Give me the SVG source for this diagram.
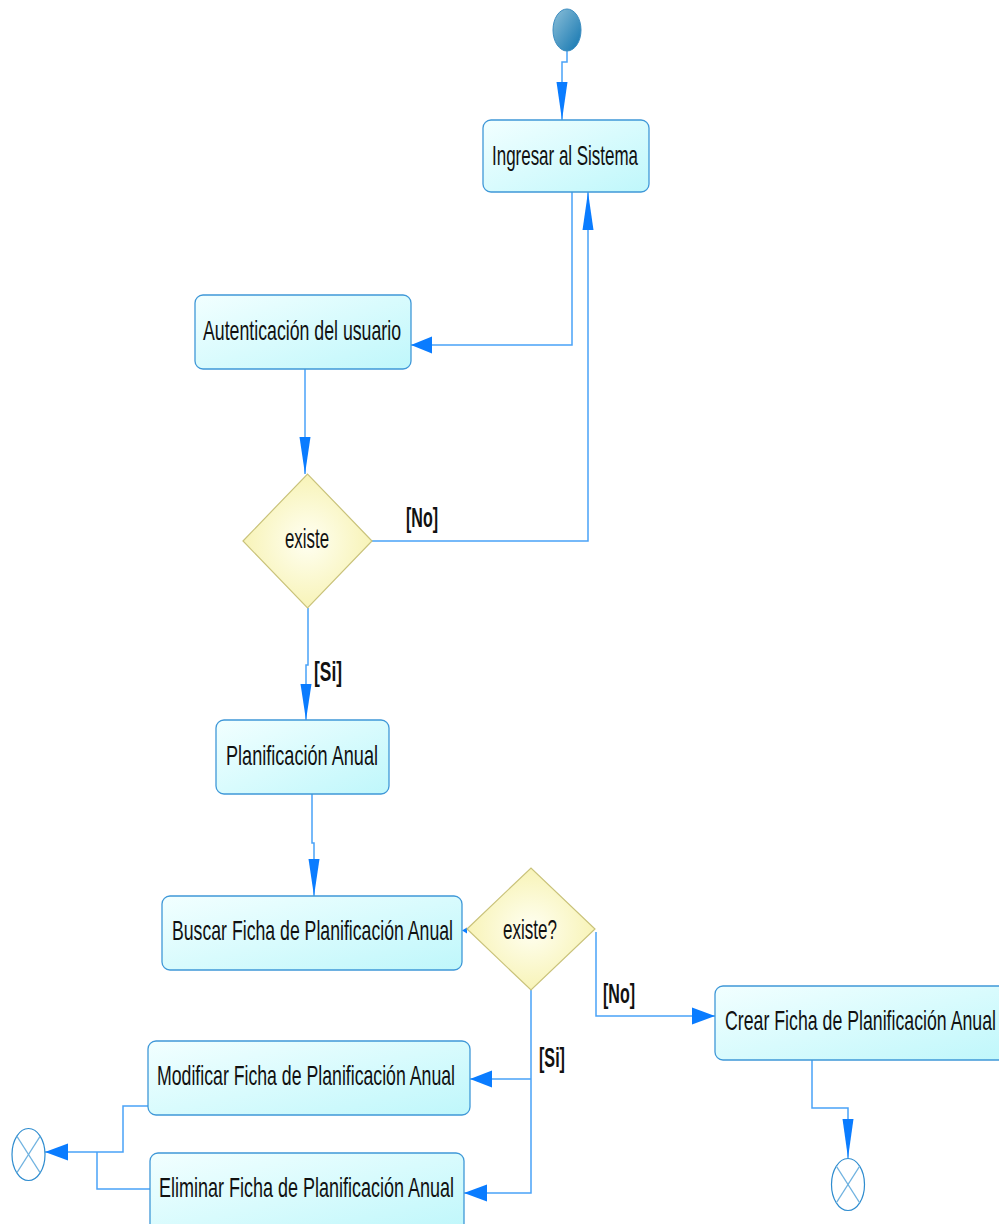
<svg xmlns="http://www.w3.org/2000/svg" width="999" height="1224" viewBox="0 0 999 1224">
<defs>
<linearGradient id="boxg" x1="0" y1="0" x2="1" y2="1">
<stop offset="0" stop-color="#f2ffff"/>
<stop offset="1" stop-color="#bff7fb"/>
</linearGradient>
<radialGradient id="diag" cx="0.5" cy="0.5" r="0.6">
<stop offset="0" stop-color="#fffff2"/>
<stop offset="1" stop-color="#f6f1ac"/>
</radialGradient>
<linearGradient id="startg" x1="0" y1="0" x2="1" y2="1">
<stop offset="0" stop-color="#8cbfd8"/>
<stop offset="1" stop-color="#1175b0"/>
</linearGradient>
<style>
.box{fill:url(#boxg);stroke:#3f98d8;stroke-width:1.3}
.dia{fill:url(#diag);stroke:#c9c27a;stroke-width:1.2}
.t{font-family:"Liberation Sans",Arial,sans-serif;font-size:28px;fill:#111}
.g{font-family:"Liberation Sans",Arial,sans-serif;font-size:27px;font-weight:bold;fill:#111}
.ln{fill:none;stroke:#4aa2f8;stroke-width:1.5}
.ah{fill:#0a7cff;stroke:none}
.end{fill:#fff;stroke:#2e8ccf;stroke-width:1.2}
.x{stroke:#6fb2e0;stroke-width:1.2}
</style>
</defs>

<g id="connectors">
<path class="ln" d="M567,51 V62 H562 V120"/>
<polygon class="ah" points="562,120 556.5,82 567.5,82"/>
<path class="ln" d="M572,192 V345 H411"/>
<polygon class="ah" points="411,345 432,336.5 432,353.5"/>
<path class="ln" d="M305,369 V474"/>
<polygon class="ah" points="305,474 299.5,437 310.5,437"/>
<path class="ln" d="M372,541 H588 V192"/>
<polygon class="ah" points="588,192 582.5,230 593.5,230"/>
<path class="ln" d="M308,608 V665 H306 V720"/>
<polygon class="ah" points="306,720 300.5,684 311.5,684"/>
<path class="ln" d="M312,794 V843 H314 V896"/>
<polygon class="ah" points="314,896 308.5,859 319.5,859"/>
<polygon class="ah" points="462,930.5 467,927.5 467,933.5"/>
<path class="ln" d="M596,932 V1016 H715"/>
<polygon class="ah" points="715,1016 692,1007.5 692,1024.5"/>
<path class="ln" d="M531,990 V1193 H464 M531,1079 H470"/>
<polygon class="ah" points="470,1079 492,1070.5 492,1087.5"/>
<polygon class="ah" points="464,1193 487,1184.5 487,1201.5"/>
<path class="ln" d="M148,1106 H123 V1152 H45 M150,1189 H97 V1152"/>
<polygon class="ah" points="45,1152 68,1143.5 68,1160.5"/>
<path class="ln" d="M812,1060 V1108 H848 V1158"/>
<polygon class="ah" points="848,1158 842.5,1119 853.5,1119"/>
<text class="g" x="406" y="527" textLength="32" lengthAdjust="spacingAndGlyphs">[No]</text>
<text class="g" x="314" y="681" textLength="28" lengthAdjust="spacingAndGlyphs">[Si]</text>
<text class="g" x="603" y="1003" textLength="32" lengthAdjust="spacingAndGlyphs">[No]</text>
<text class="g" x="539" y="1067" textLength="26" lengthAdjust="spacingAndGlyphs">[Si]</text>
</g>

<g id="start">
<ellipse cx="567" cy="30" rx="14" ry="21" fill="url(#startg)" stroke="#3b8cc0" stroke-width="1"/>
</g>

<g id="ingresar">
<rect class="box" x="483" y="120" width="166" height="72" rx="8"/>
<text class="t" x="492" y="165" textLength="146" lengthAdjust="spacingAndGlyphs">Ingresar al Sistema</text>
</g>

<g id="autenticacion">
<rect class="box" x="195" y="295" width="216" height="74" rx="8"/>
<text class="t" x="203" y="340" textLength="198" lengthAdjust="spacingAndGlyphs">Autenticación del usuario</text>
</g>

<g id="existe1">
<polygon class="dia" points="243,541 307.5,474 372,541 307.5,608"/>
<text class="t" x="285" y="548" textLength="44" lengthAdjust="spacingAndGlyphs">existe</text>
</g>

<g id="planificacion">
<rect class="box" x="216" y="720" width="173" height="74" rx="8"/>
<text class="t" x="226" y="765" textLength="152" lengthAdjust="spacingAndGlyphs">Planificación Anual</text>
</g>

<g id="buscar">
<rect class="box" x="162" y="896" width="300" height="74" rx="8"/>
<text class="t" x="172" y="940" textLength="281" lengthAdjust="spacingAndGlyphs">Buscar Ficha de Planificación Anual</text>
</g>

<g id="existe2">
<polygon class="dia" points="467,929 531,868 595,929 531,990"/>
<text class="t" x="503" y="939" textLength="54" lengthAdjust="spacingAndGlyphs">existe?</text>
</g>

<g id="crear">
<rect class="box" x="715" y="986" width="295" height="74" rx="8"/>
<text class="t" x="725" y="1030" textLength="271" lengthAdjust="spacingAndGlyphs">Crear Ficha de Planificación Anual</text>
</g>

<g id="modificar">
<rect class="box" x="148" y="1041" width="322" height="74" rx="8"/>
<text class="t" x="157" y="1085" textLength="298" lengthAdjust="spacingAndGlyphs">Modificar Ficha de Planificación Anual</text>
</g>

<g id="eliminar">
<rect class="box" x="150" y="1153" width="314" height="80" rx="8"/>
<text class="t" x="159" y="1197" textLength="295" lengthAdjust="spacingAndGlyphs">Eliminar Ficha de Planificación Anual</text>
</g>

<g id="end1">
<ellipse class="end" cx="28.5" cy="1154.5" rx="16.5" ry="26"/>
<line class="x" x1="16.8" y1="1136.1" x2="40.2" y2="1172.9"/>
<line class="x" x1="40.2" y1="1136.1" x2="16.8" y2="1172.9"/>
</g>

<g id="end2">
<ellipse class="end" cx="848" cy="1184.5" rx="16.5" ry="26"/>
<line class="x" x1="836.3" y1="1166.1" x2="859.7" y2="1202.9"/>
<line class="x" x1="859.7" y1="1166.1" x2="836.3" y2="1202.9"/>
</g>
</svg>
